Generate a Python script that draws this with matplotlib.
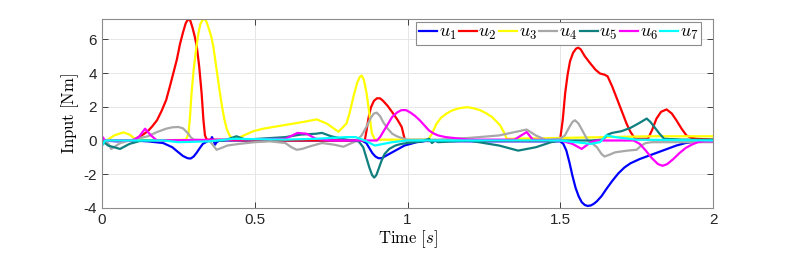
import matplotlib
matplotlib.use("Agg")
import matplotlib.pyplot as plt

plt.rcParams['mathtext.fontset'] = 'cm'
plt.rcParams['font.family'] = ['Liberation Sans', 'DejaVu Sans']

# values, (time [s], input [Nm])
t_u1 = [0, 0.05, 0.1, 0.15, 0.2, 0.23, 0.25, 0.265, 0.28, 0.29, 0.3, 0.31, 0.32, 0.33,
        0.345, 0.355, 0.36, 0.365, 0.37, 0.375, 0.385, 0.45, 0.6, 0.85, 0.865, 0.875,
        0.885, 0.895, 0.905, 0.915, 0.93, 0.95, 0.97, 0.99, 1.01, 1.03, 1.06, 1.2, 1.5,
        1.51, 1.52, 1.53, 1.54, 1.55, 1.56, 1.57, 1.58, 1.59, 1.6, 1.61, 1.62, 1.635,
        1.65, 1.67, 1.69, 1.71, 1.73, 1.76, 1.79, 1.82, 1.85, 1.88, 1.91, 1.95, 2.0]
v_u1 = [0, -0.05, 0.0, -0.05, -0.15, -0.4, -0.7, -0.92, -1.05, -1.07, -0.95, -0.72, -0.45, -0.2,
        -0.05, 0.0, 0.2, 0.0, -0.25, -0.1, 0.0, 0.0, 0.0, 0.0, -0.15, -0.45,
        -0.75, -0.95, -1.05, -1.05, -0.9, -0.7, -0.5, -0.3, -0.2, -0.1, -0.03, -0.05, -0.05,
        -0.2, -0.6, -1.3, -2.1, -2.8, -3.3, -3.65, -3.82, -3.88, -3.85, -3.75, -3.6, -3.3,
        -2.9, -2.4, -1.95, -1.6, -1.35, -1.1, -0.9, -0.7, -0.5, -0.3, -0.15, -0.05, 0.0]

t_u2 = [0, 0.1, 0.114, 0.13, 0.15, 0.165, 0.18, 0.195, 0.21, 0.225, 0.245, 0.255, 0.265,
        0.274, 0.282, 0.289, 0.296, 0.303, 0.31, 0.318, 0.326, 0.332, 0.337, 0.343, 0.5,
        0.86, 0.866, 0.872, 0.88, 0.89, 0.9, 0.91, 0.92, 0.935, 0.953, 0.968, 0.981, 0.987,
        0.992, 1.2, 1.499, 1.508, 1.516, 1.524, 1.532, 1.542, 1.552, 1.559, 1.567, 1.58,
        1.597, 1.615, 1.63, 1.645, 1.655, 1.67, 1.685, 1.7, 1.717, 1.73, 1.745, 1.787, 1.8,
        1.815, 1.83, 1.848, 1.865, 1.88, 1.897, 1.913, 1.93, 1.946, 2.0]
v_u2 = [0, 0.0, 0.15, 0.3, 0.55, 0.85, 1.2, 1.75, 2.4, 3.4, 4.8, 5.7, 6.4,
        6.95, 7.2, 7.1, 6.7, 6.2, 5.6, 4.4, 2.8, 1.2, 0.3, 0.05, 0.0,
        0.0, 0.6, 1.3, 1.95, 2.35, 2.5, 2.5, 2.35, 2.05, 1.6, 1.2, 0.8, 0.35,
        0.0, 0.0, 0.0, 1.2, 2.8, 3.9, 4.7, 5.2, 5.45, 5.5, 5.4, 5.0,
        4.6, 4.2, 3.97, 3.9, 3.8, 3.2, 2.5, 1.8, 1.0, 0.5, 0.1, 0.1, 0.6,
        1.3, 1.7, 1.84, 1.6, 1.2, 0.7, 0.3, 0.15, 0.1, 0.05]

t_u3 = [0, 0.015, 0.04, 0.07, 0.09, 0.112, 0.2, 0.275, 0.283, 0.288, 0.293, 0.3, 0.308,
        0.315, 0.322, 0.329, 0.336, 0.343, 0.35, 0.357, 0.364, 0.372, 0.379, 0.386, 0.393,
        0.4, 0.408, 0.416, 0.424, 0.452, 0.495, 0.528, 0.593, 0.659, 0.703, 0.736, 0.774,
        0.8, 0.81, 0.823, 0.835, 0.843, 0.85, 0.857, 0.866, 0.875, 0.883, 0.893, 1.0,
        1.068, 1.08, 1.095, 1.11, 1.128, 1.146, 1.166, 1.183, 1.199, 1.218, 1.237, 1.257,
        1.276, 1.29, 1.303, 1.315, 1.325, 1.5, 1.8, 2.0]
v_u3 = [0, 0.0, 0.3, 0.48, 0.35, 0.05, 0.0, 0.05, 0.4, 1.4, 2.8, 4.2, 5.4,
        6.3, 6.9, 7.15, 7.2, 7.0, 6.6, 6.2, 5.6, 4.6, 3.7, 2.8, 2.0,
        1.3, 0.7, 0.35, 0.15, 0.2, 0.55, 0.7, 0.9, 1.1, 1.25, 1.0, 0.52,
        1.0, 1.6, 2.6, 3.4, 3.75, 3.85, 3.6, 2.8, 1.6, 0.45, 0.05, 0.05,
        0.05, 0.4, 1.0, 1.35, 1.6, 1.78, 1.9, 1.95, 1.97, 1.9, 1.8, 1.62,
        1.4, 1.15, 0.9, 0.5, 0.1, 0.15, 0.25, 0.25]

t_u4 = [0, 0.015, 0.03, 0.06, 0.1, 0.15, 0.18, 0.21, 0.23, 0.25, 0.265, 0.28, 0.29, 0.3,
        0.35, 0.36, 0.375, 0.39, 0.41, 0.45, 0.5, 0.55, 0.6, 0.62, 0.637, 0.655, 0.68,
        0.72, 0.76, 0.79, 0.83, 0.85, 0.865, 0.88, 0.89, 0.899, 0.91, 0.92, 0.935, 0.95,
        0.965, 0.98, 1.0, 1.1, 1.2, 1.3, 1.39, 1.42, 1.45, 1.5, 1.515, 1.53, 1.54, 1.548,
        1.56, 1.575, 1.59, 1.6, 1.62, 1.635, 1.645, 1.66, 1.68, 1.72, 1.75, 1.765, 1.78,
        1.8, 2.0]
v_u4 = [-0.3, 0.0, -0.5, -0.15, 0.05, 0.25, 0.5, 0.7, 0.78, 0.8, 0.72, 0.45, 0.2, 0.05,
        0.0, -0.2, -0.55, -0.45, -0.3, -0.2, -0.1, -0.05, -0.15, -0.4, -0.55, -0.5, -0.35,
        -0.15, -0.25, -0.37, -0.05, 0.3, 0.8, 1.35, 1.6, 1.65, 1.45, 1.1, 0.7, 0.4,
        0.25, 0.15, 0.05, 0.05, 0.15, 0.3, 0.65, 0.3, 0.05, 0.1, 0.3, 0.8, 1.1, 1.2,
        1.0, 0.5, 0.0, -0.1, -0.4, -0.8, -0.95, -0.85, -0.7, -0.6, -0.55, -0.3, -0.15,
        -0.1, -0.1]

t_u5 = [0, 0.02, 0.059, 0.09, 0.13, 0.4, 0.44, 0.47, 0.6, 0.65, 0.7, 0.72, 0.75, 0.8,
        0.84, 0.855, 0.865, 0.875, 0.884, 0.891, 0.898, 0.905, 0.915, 0.925, 0.94, 0.96,
        0.98, 1.0, 1.05, 1.07, 1.08, 1.09, 1.1, 1.2, 1.3, 1.362, 1.42, 1.47, 1.5, 1.6,
        1.64, 1.655, 1.67, 1.7, 1.73, 1.76, 1.783, 1.795, 1.81, 1.825, 1.84, 1.9, 2.0]
v_u5 = [0, -0.3, -0.5, -0.2, 0.0, 0.0, 0.25, 0.05, 0.2, 0.35, 0.4, 0.45, 0.25, 0.05,
        -0.05, -0.4, -1.0, -1.6, -2.05, -2.2, -2.05, -1.7, -1.2, -0.8, -0.5, -0.3,
        -0.2, -0.15, -0.05, 0.1, -0.15, 0.0, -0.1, 0.0, -0.3, -0.6, -0.4, -0.1, 0.0, 0.0,
        0.05, 0.35, 0.45, 0.55, 0.75, 1.05, 1.3, 1.1, 0.75, 0.4, 0.1, 0.05, 0.05]

t_u6 = [0, 0.01, 0.1, 0.12, 0.141, 0.16, 0.18, 0.6, 0.64, 0.67, 0.7, 0.75, 0.9, 0.91,
        0.92, 0.935, 0.95, 0.965, 0.98, 0.995, 1.01, 1.025, 1.04, 1.055, 1.07, 1.085, 1.1,
        1.125, 1.15, 1.2, 1.35, 1.39, 1.41, 1.5, 1.54, 1.57, 1.6, 1.62, 1.74, 1.76, 1.78,
        1.8, 1.82, 1.835, 1.85, 1.87, 1.89, 1.91, 1.93, 1.95, 1.97, 2.0]
v_u6 = [0.25, 0.0, 0.0, 0.2, 0.7, 0.3, 0.0, 0.1, 0.45, 0.4, 0.1, 0.0, 0.0, 0.2,
        0.5, 0.95, 1.4, 1.65, 1.8, 1.8, 1.65, 1.45, 1.2, 0.9, 0.6, 0.42, 0.3,
        0.2, 0.15, 0.05, 0.05, 0.5, 0.05, 0.0, -0.2, -0.5, -0.1, 0.0, 0.0, -0.2, -0.6,
        -1.05, -1.4, -1.5, -1.4, -1.1, -0.75, -0.45, -0.25, -0.1, -0.05, -0.05]

t_u7 = [0, 0.01, 0.2, 0.25, 0.35, 0.43, 0.6, 0.7, 0.8, 0.83, 0.86, 0.893, 0.95, 1.0,
        1.5, 1.6, 1.63, 1.65, 1.68, 1.75, 2.0]
v_u7 = [-0.3, 0.0, 0.0, -0.1, -0.05, 0.1, 0.05, 0.1, 0.2, 0.2, 0.0, -0.3, -0.1, 0.0,
        0.0, -0.2, -0.1, 0.3, 0.2, 0.05, 0.0]

series = [
    (t_u1, v_u1, 'blue', r'$u_1$'),
    (t_u2, v_u2, 'red', r'$u_2$'),
    (t_u3, v_u3, 'yellow', r'$u_3$'),
    (t_u4, v_u4, '#a8a8a8', r'$u_4$'),
    (t_u5, v_u5, '#0f7f7f', r'$u_5$'),
    (t_u6, v_u6, 'magenta', r'$u_6$'),
    (t_u7, v_u7, 'cyan', r'$u_7$'),
]

fig = plt.figure(figsize=(7.89, 2.59), dpi=100)
ax = fig.add_axes([0.1293, 0.197, 0.7744, 0.7296])

for t, v, c, lab in series:
    ax.plot(t, v, color=c, lw=1.6, label=lab)

ax.set_xlim(0, 2)
ax.set_ylim(-4, 7.2)
ax.set_xticks([0, 0.5, 1, 1.5, 2])
ax.set_xticklabels(['0', '0.5', '1', '1.5', '2'])
ax.set_yticks([-4, -2, 0, 2, 4, 6])
ax.set_yticklabels(['-4', '-2', '0', '2', '4', '6'])
ax.grid(True, color='#e6e6e6', lw=0.7)
ax.set_axisbelow(True)
ax.tick_params(direction='in', top=True, right=True, labelsize=11,
               colors='#262626', length=4, width=0.6)
for s in ax.spines.values():
    s.set_color('#8c8c8c')
    s.set_linewidth(0.8)

ax.set_xlabel(r'$\mathrm{Time}\ [s]$', fontsize=12, labelpad=1)
ax.set_ylabel(r'$\mathrm{Input}\ [\mathrm{Nm}]$', fontsize=12, labelpad=2)

leg = ax.legend(loc='upper right', ncol=7, fontsize=13, handlelength=1.0,
                handletextpad=0.08, columnspacing=0.15, borderpad=0.15,
                borderaxespad=0.15, fancybox=False, framealpha=1,
                bbox_to_anchor=(0.985, 1.0))
leg.get_frame().set_edgecolor('#8c8c8c')
leg.get_frame().set_linewidth(0.8)

fig.savefig('out.png', dpi=100)
